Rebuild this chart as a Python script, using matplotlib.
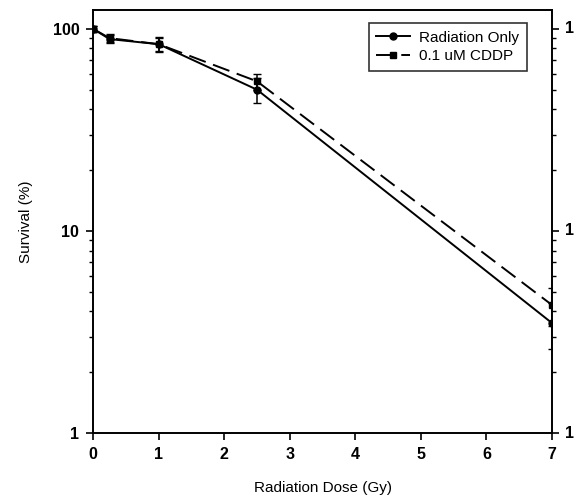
import matplotlib.pyplot as plt
from matplotlib.ticker import LogLocator, NullFormatter
import matplotlib.transforms as mtransforms

plt.rcParams['font.family'] = ['Liberation Sans', 'DejaVu Sans']

dose = [0, 0.25, 1, 2.5, 7]
rad_only = [100, 89, 84, 50, 3.5]
rad_only_err = [3, 4, 7, 7, 0.9]
cddp = [100, 90, 84, 55, 4.3]
cddp_err = [3, 4, 6, 5, 0.9]
y_ticks = [1, 10, 100]
right_labels = ['1', '1', '1']

fig = plt.figure(figsize=(5.75, 5), dpi=100)
ax = fig.add_axes([0.162, 0.134, 0.798, 0.846])

eb1 = ax.errorbar(dose, rad_only, yerr=rad_only_err, color='black', lw=1.4,
                  marker='o', ms=5, capsize=3, elinewidth=1.1)
eb2 = ax.errorbar(dose, cddp, yerr=cddp_err, color='black', lw=1.4, ls=(0, (9, 4)),
                  marker='s', ms=4.5, capsize=3, elinewidth=1.1)

ax.set_yscale('log')
ax.set_xlim(0, 7)
ax.set_ylim(1, 124)
ax.set_xticks(range(8))
ax.set_yticks(y_ticks)
ax.set_yticklabels([str(v) for v in y_ticks], fontweight='bold')
ax.yaxis.set_minor_locator(LogLocator(base=10, subs=range(2, 10)))
ax.yaxis.set_minor_formatter(NullFormatter())
for lbl in ax.get_xticklabels():
    lbl.set_fontweight('bold')

ax.tick_params(axis='both', which='major', direction='out', length=5,
               width=1.2, labelsize=11.5, pad=5)
ax.tick_params(axis='y', which='minor', direction='out', length=3, width=1)
ax.tick_params(axis='y', which='both', right=True)

# right-hand scale shows only a single digit at each decade
trans = mtransforms.blended_transform_factory(ax.transAxes, ax.transData)
for v, txt in zip(y_ticks, right_labels):
    ax.text(1.028, v, txt, transform=trans, ha='left', va='center',
            fontsize=11.5, fontweight='bold', clip_on=False)

for s in ax.spines.values():
    s.set_linewidth(1.4)

ax.set_xlabel('Radiation Dose (Gy)', fontsize=11, labelpad=14)
ax.set_ylabel('Survival (%)', fontsize=11, labelpad=14)

leg = ax.legend([eb1[0], eb2[0]], ['Radiation Only', '0.1 uM CDDP'],
                loc='upper right', bbox_to_anchor=(0.945, 0.969), fontsize=11,
                frameon=True, fancybox=False, edgecolor='black',
                handlelength=2.2, handletextpad=0.6, labelspacing=0.3,
                borderaxespad=0, borderpad=0.5)
leg.get_frame().set_linewidth(1.2)

fig.savefig('out.png', dpi=100)
